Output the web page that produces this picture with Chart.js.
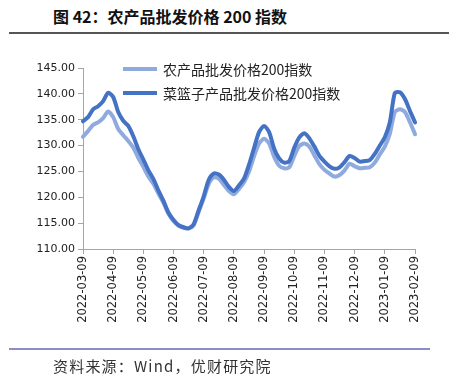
<!DOCTYPE html>
<html><head><meta charset="utf-8">
<script src="https://cdn.jsdelivr.net/npm/chart.js@4"></script>
<style>
html,body{margin:0;padding:0;background:#fff;}
#wrap{position:relative;width:449px;height:388px;overflow:hidden;background:#fff;}
#title{position:absolute;left:53px;top:4px;font:700 16px "Noto Sans CJK SC";color:#111;white-space:nowrap;}
#rule1{position:absolute;left:9px;top:32px;width:440px;height:0;border-top:2px solid #555;}
#rule2{position:absolute;left:9px;top:348px;width:421px;height:0;border-top:2px solid #8c8cc8;}
#source{position:absolute;left:53px;top:355px;font:15px "Noto Sans CJK SC";color:#333;letter-spacing:1.2px;white-space:nowrap;}
canvas{position:absolute;left:0;top:0;}
#legend{position:absolute;left:123px;top:57px;font:14px "Noto Sans CJK SC";color:#222;}
.item{display:flex;align-items:center;height:24px;white-space:nowrap;}
.swatch{width:34px;height:4px;margin-right:6px;}
</style>
</head><body>
<div id="wrap">
<div id="title">图 42：农产品批发价格 200 指数</div>
<div id="rule1"></div>
<canvas id="c" width="449" height="388"></canvas>
<div id="legend"></div>
<div id="rule2"></div>
<div id="source">资料来源：Wind，优财研究院</div>
</div>
<script>
const categories = [
"2022-03-09","2022-03-14","2022-03-19","2022-03-24","2022-03-29","2022-04-04",
"2022-04-09","2022-04-14","2022-04-19","2022-04-24","2022-04-29","2022-05-04",
"2022-05-09","2022-05-14","2022-05-19","2022-05-24","2022-05-29","2022-06-04",
"2022-06-09","2022-06-14","2022-06-19","2022-06-24","2022-06-29","2022-07-04",
"2022-07-09","2022-07-14","2022-07-19","2022-07-24","2022-07-29","2022-08-04",
"2022-08-09","2022-08-14","2022-08-19","2022-08-24","2022-08-29","2022-09-04",
"2022-09-09","2022-09-14","2022-09-19","2022-09-24","2022-09-29","2022-10-04",
"2022-10-09","2022-10-14","2022-10-19","2022-10-24","2022-10-29","2022-11-04",
"2022-11-09","2022-11-14","2022-11-19","2022-11-24","2022-11-29","2022-12-04",
"2022-12-09","2022-12-14","2022-12-19","2022-12-24","2022-12-29","2023-01-04",
"2023-01-09","2023-01-14","2023-01-19","2023-01-24","2023-01-29","2023-02-04",
"2023-02-09"
];
const farmLabel = "农产品批发价格200指数";
const basketLabel = "菜篮子产品批发价格200指数";
const farmIndex = [
131.7,132.8,134.0,134.5,135.3,136.6,
135.5,133.2,132.0,130.9,129.6,127.6,
125.9,124.0,122.6,120.7,118.9,116.8,
115.4,114.5,114.1,114.0,114.6,117.2,
119.8,122.6,123.9,123.6,122.4,121.2,
120.6,121.6,122.9,125.0,127.9,130.4,
131.3,130.4,127.8,126.1,125.6,125.8,
128.0,129.9,130.4,129.8,128.1,126.4,
125.3,124.6,124.0,124.3,125.2,126.5,
126.0,125.6,125.7,125.8,126.7,128.3,
129.8,132.3,136.5,137.0,136.5,134.5,
132.2
];
const basketIndex = [
134.7,135.5,137.0,137.6,138.6,140.2,
139.4,136.5,134.8,133.8,131.8,129.3,
127.3,125.2,123.5,121.3,119.3,117.0,
115.6,114.6,114.2,114.0,114.8,117.5,
120.2,123.4,124.6,124.4,123.4,122.0,
121.2,122.3,123.6,126.3,129.5,132.6,
133.8,132.6,129.4,127.5,126.7,127.0,
129.6,131.6,132.4,131.4,129.8,128.0,
126.9,126.0,125.5,125.8,126.8,128.0,
127.6,126.9,127.0,127.2,128.4,130.0,
131.6,134.5,140.2,140.3,139.0,136.7,
134.5
];
const yMin = 110, yMax = 145, yStep = 5;

const farmColor = "#8fabdd";
const basketColor = "#4472c4";
const axisColor = "#a6a6a6";

const datasets = [
  {label: basketLabel, data: basketIndex, borderColor: basketColor, backgroundColor: basketColor, order: 0},
  {label: farmLabel, data: farmIndex, borderColor: farmColor, backgroundColor: farmColor, order: 1}
].map(d => Object.assign(d, {borderWidth: 4, pointRadius: 0, tension: 0.25, fill: false, borderCapStyle: 'round', borderJoinStyle: 'round'}));

const chart = new Chart(document.getElementById('c'), {
  type: 'line',
  data: {labels: categories, datasets: datasets},
  options: {
    responsive: false,
    animation: false,
    layout: {padding: {left: 0, top: 68, right: 34, bottom: 59}},
    plugins: {legend: {display: false}, tooltip: {enabled: false}},
    scales: {
      x: {
        type: 'category',
        offset: false,
        border: {display: true, color: axisColor, width: 1},
        grid: {display: true, drawOnChartArea: false, drawTicks: true, tickLength: 5, color: axisColor},
        ticks: {autoSkip: false, maxRotation: 90, minRotation: 90, padding: 2, color: '#222',
                font: {family: 'DejaVu Sans', size: 11.5}},
        afterBuildTicks: s => { s.ticks = s.ticks.filter(t => categories[t.value].endsWith('-09')); },
        afterFit: s => { s.height = 80; }
      },
      y: {
        min: yMin, max: yMax,
        border: {display: true, color: axisColor, width: 1},
        grid: {display: true, drawOnChartArea: false, drawTicks: true, tickLength: 5, color: axisColor},
        ticks: {stepSize: yStep, padding: 3, color: '#222', font: {family: 'DejaVu Sans', size: 11},
                callback: v => Number(v).toFixed(2)},
        afterFit: s => { s.width = 83; }
      }
    }
  }
});

// legend (inside plot, as in the reference)
const legendOrder = [1, 0];
const lg = document.getElementById('legend');
legendOrder.forEach(i => {
  const ds = chart.data.datasets[i];
  const row = document.createElement('div'); row.className = 'item';
  const sw = document.createElement('span'); sw.className = 'swatch'; sw.style.background = ds.borderColor;
  const tx = document.createElement('span'); tx.textContent = ds.label;
  row.appendChild(sw); row.appendChild(tx); lg.appendChild(row);
});
</script>
</body></html>
